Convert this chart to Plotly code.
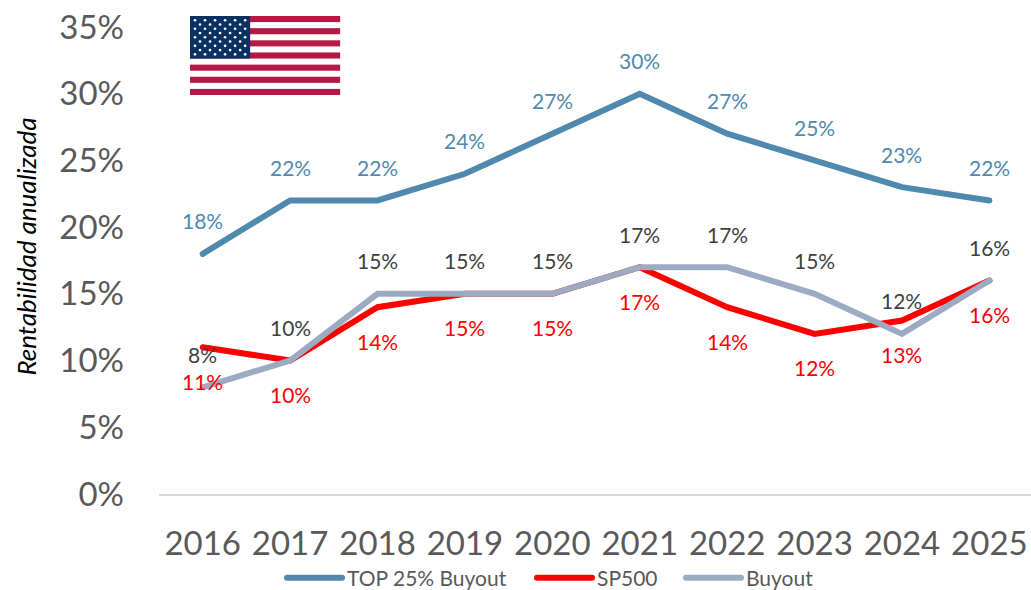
import base64
import plotly.graph_objects as go

years = [2016, 2017, 2018, 2019, 2020, 2021, 2022, 2023, 2024, 2025]
top25 = [18, 22, 22, 24, 27, 30, 27, 25, 23, 22]
sp500 = [11, 10, 14, 15, 15, 17, 14, 12, 13, 16]
buyout = [8, 10, 15, 15, 15, 17, 17, 15, 12, 16]
y_ticks = [0, 5, 10, 15, 20, 25, 30, 35]

FONT = "Lato"
GREY = "#595959"

series = [
    ("TOP 25% Buyout", top25, "#4F89AD", "#4F89AD", -33, "legend", 282),
    ("SP500", sp500, "#FF0000", "#FF0000", 34, "legend2", 532),
    ("Buyout", buyout, "#9CABC2", "#404040", -33, "legend3", 681),
]

def flag_svg():
    w, h = 150, 79
    sh = h / 13
    parts = [f'<svg xmlns="http://www.w3.org/2000/svg" width="{w}" height="{h}" viewBox="0 0 {w} {h}">',
             f'<rect width="{w}" height="{h}" fill="#ffffff"/>']
    for i in range(0, 13, 2):
        parts.append(f'<rect y="{i*sh:.2f}" width="{w}" height="{sh:.2f}" fill="#B31942"/>')
    cw, ch = 60, 7 * sh
    parts.append(f'<rect width="{cw}" height="{ch:.2f}" fill="#0A3161"/>')
    for r in range(9):
        n = 6 if r % 2 == 0 else 5
        for c in range(n):
            cx = cw / 12 * (2 * c + (1 if r % 2 == 0 else 2))
            cy = ch / 10 * (r + 1)
            parts.append(f'<circle cx="{cx:.2f}" cy="{cy:.2f}" r="1.35" fill="#ffffff"/>')
    parts.append("</svg>")
    return "data:image/svg+xml;base64," + base64.b64encode("".join(parts).encode()).decode()

L, R, T, B = 158.5, 0, 27, 96
W, H = 1031, 590
pw, ph = W - L - R, H - T - B

fig = go.Figure()
annotations = []
legends = {}
for name, vals, col, lab_col, shift, leg, leg_x in series:
    fig.add_trace(go.Scatter(
        x=years, y=vals, name=name, mode="lines", legend=leg,
        line=dict(color=col, width=6), hoverinfo="skip",
    ))
    for yr, v in zip(years, vals):
        annotations.append(dict(
            x=yr, y=v, xref="x", yref="y", text=f"{v}%", showarrow=False,
            yshift=-shift, font=dict(family=FONT, size=21, color=lab_col),
        ))
    legends[leg] = dict(
        orientation="h", x=leg_x / W, xref="container", xanchor="left",
        y=(H - 578) / H, yref="container", yanchor="middle",
        font=dict(family=FONT, size=21, color=GREY),
        itemwidth=55, bgcolor="rgba(0,0,0,0)",
    )

annotations.append(dict(
    x=(25 - L) / pw, y=(H - B - 247) / ph, xref="paper", yref="paper",
    text="<i>Rentabilidad anualizada</i>", textangle=-90, showarrow=False,
    xanchor="center", yanchor="middle",
    font=dict(family=FONT, size=26, color="#000000"),
))

fig.update_layout(
    width=W, height=H,
    margin=dict(l=L, r=R, t=T, b=B, pad=0, autoexpand=False),
    paper_bgcolor="white", plot_bgcolor="white",
    font=dict(family=FONT, color=GREY),
    showlegend=True,
    xaxis=dict(
        range=[2015.5, 2025.476], tickmode="array", tickvals=years,
        ticktext=[str(y) for y in years],
        showgrid=False, zeroline=False,
        showline=True, linecolor="#D9D9D9", linewidth=2,
        ticks="", tickfont=dict(family=FONT, size=33, color=GREY),
        ticklabelstandoff=19,
    ),
    yaxis=dict(
        range=[0, 35], tickmode="array", tickvals=y_ticks,
        ticktext=[f"{t}%" for t in y_ticks],
        showgrid=False, zeroline=False, showline=False, ticks="",
        tickfont=dict(family=FONT, size=33, color=GREY),
        ticklabelstandoff=34,
    ),
    annotations=annotations,
    images=[dict(
        source=flag_svg(), xref="paper", yref="paper",
        x=(189.5 - L) / pw, y=1 + (T - 16) / ph, sizex=150.5 / pw, sizey=79 / ph,
        xanchor="left", yanchor="top", sizing="stretch", layer="above",
    )],
    **legends,
)

fig.write_html(
    "out.html",
    post_script=(
        "document.body.style.margin='0';document.body.style.overflow='hidden';"
        "document.querySelectorAll('.js-line').forEach(function(p){p.style.strokeLinecap='round';});"
    ),
    config=dict(displayModeBar=False),
)
